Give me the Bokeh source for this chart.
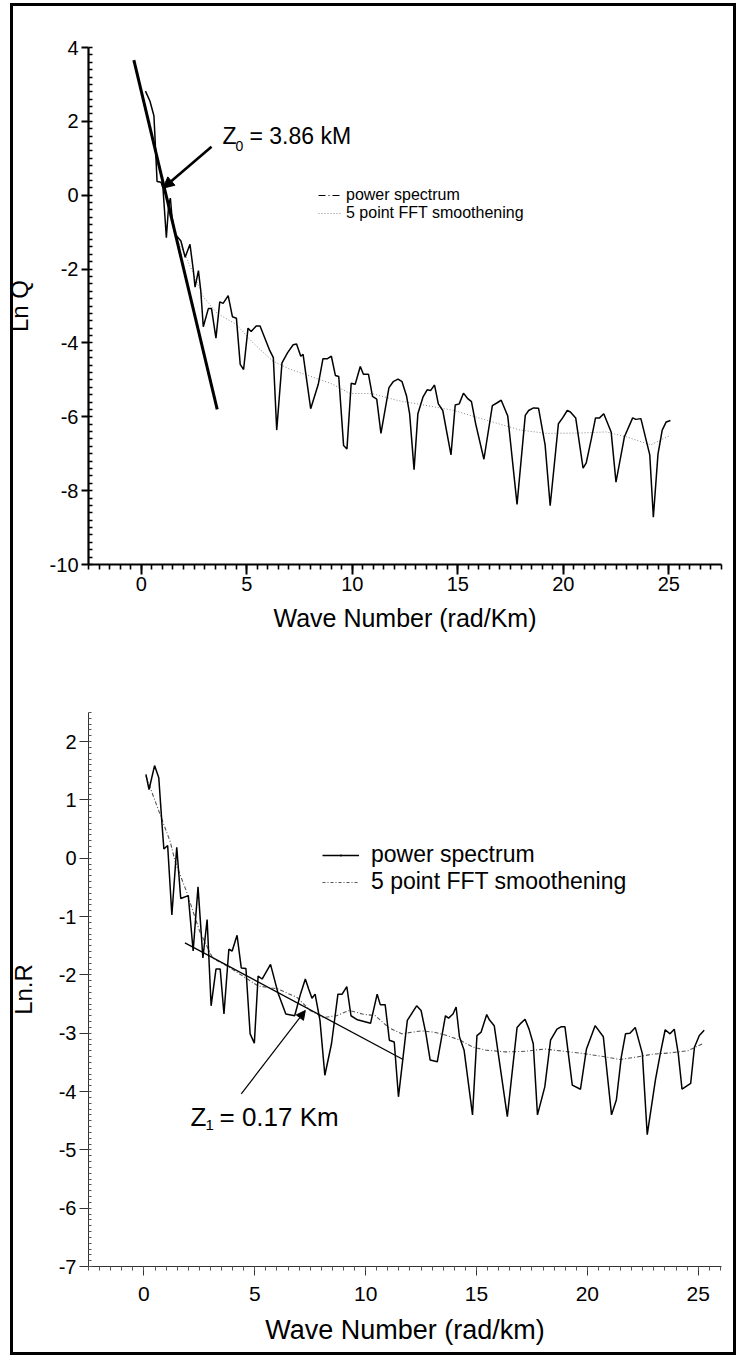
import numpy as np
from bokeh.plotting import figure
from bokeh.models import (Range1d, FixedTicker, Arrow, NormalHead, Label, Legend, LegendItem,
                          PrintfTickFormatter, InlineStyleSheet)
from bokeh.layouts import column
from bokeh.embed import file_html
from bokeh.resources import INLINE

FONT = "Liberation Sans"

# ---------------- data: upper panel (Ln Q) ----------------
top_k = [0.20, 0.41, 0.60, 0.64, 0.75, 0.94, 1.03, 1.19, 1.30, 1.38, 1.46, 1.61, 1.88, 2.08, 2.31, 2.47,
         2.55, 2.71, 2.82, 2.94, 3.18, 3.33, 3.54, 3.72, 3.88, 4.12, 4.32, 4.51, 4.69, 4.85, 5.06, 5.21,
         5.45, 5.63, 6.07, 6.26, 6.42, 6.67, 6.93, 7.20, 7.36, 7.56, 7.67, 8.03, 8.39, 8.61, 8.81, 9.01,
         9.20, 9.36, 9.59, 9.75, 9.95, 10.14, 10.38, 10.53, 10.77, 10.96, 11.16, 11.36, 11.74, 11.94,
         12.17, 12.36, 12.57, 12.72, 12.93, 13.11, 13.35, 13.55, 13.71, 13.90, 14.08, 14.29, 14.68, 14.88,
         15.07, 15.27, 15.46, 15.65, 15.85, 16.24, 16.64, 16.87, 17.06, 17.37, 17.81, 18.20, 18.36, 18.59,
         18.83, 19.14, 19.38, 19.77, 19.97, 20.19, 20.34, 20.59, 20.94, 21.09, 21.33, 21.53, 21.72, 21.92,
         22.27, 22.50, 22.90, 23.29, 23.44, 23.68, 24.10, 24.27, 24.49, 24.69, 24.88, 25.08]
top_lnq = [2.82, 2.55, 2.15, 1.70, 0.37, 0.35, 0.19, -1.15, -0.26, -0.08, -0.61, -1.06, -1.24, -1.68, -1.33, -2.04,
           -2.49, -2.04, -2.58, -3.56, -3.07, -3.07, -3.87, -2.89, -2.93, -2.72, -3.29, -3.33, -4.58, -4.72, -3.60, -3.69,
           -3.54, -3.54, -4.18, -4.40, -6.36, -4.54, -4.27, -4.05, -4.03, -4.36, -4.31, -5.78, -5.12, -4.43, -4.43, -4.36,
           -4.88, -4.91, -6.78, -6.87, -5.09, -5.12, -4.64, -4.85, -4.85, -5.45, -5.52, -6.45, -5.21, -5.05,
           -4.98, -5.05, -5.43, -5.92, -7.43, -5.92, -5.47, -5.27, -5.29, -5.14, -5.65, -5.83, -7.03, -5.68,
           -5.65, -5.36, -5.50, -5.59, -6.19, -7.15, -5.70, -5.62, -5.55, -5.98, -8.37, -5.96, -5.83, -5.76,
           -5.77, -6.76, -8.41, -6.19, -6.03, -5.83, -5.87, -6.03, -7.39, -7.25, -6.60, -6.03, -6.03, -5.92,
           -6.41, -7.77, -6.54, -6.03, -6.07, -6.05, -7.03, -8.72, -7.01, -6.36, -6.14, -6.10]
top_smooth_k = [1.60, 2.07, 2.94, 3.60, 4.51, 5.30, 6.23, 7.00, 7.95, 9.00, 9.90, 10.92, 12.17, 13.58,
                14.83, 16.40, 17.97, 19.22, 20.78, 22.03, 22.97, 24.15, 25.08]
top_smooth_lnq = [-1.10, -1.60, -2.75, -3.20, -3.50, -4.00, -4.49, -4.70, -4.89, -5.10, -5.37, -5.37, -5.56, -5.70,
                  -5.83, -6.10, -6.36, -6.45, -6.44, -6.41, -6.54, -6.76, -6.50]
top_fit_k = [-0.35, 3.60]
top_fit_lnq = [3.66, -5.80]

# ---------------- data: lower panel (Ln R) ----------------
bot_k = [0.09, 0.23, 0.48, 0.67, 0.82, 0.90, 1.07, 1.26, 1.48, 1.66, 2.00, 2.22, 2.44, 2.66, 2.85, 3.03,
         3.25, 3.44, 3.61, 3.83, 3.98, 4.20, 4.39, 4.60, 4.79, 4.98, 5.15, 5.33, 5.71, 6.04, 6.40, 6.80,
         7.06, 7.28, 7.43, 7.58, 7.72, 7.94, 8.16, 8.46, 8.75, 8.94, 9.15, 9.34, 9.63, 10.22, 10.52, 10.66,
         10.88, 11.07, 11.29, 11.48, 11.88, 12.30, 12.50, 12.72, 12.91, 13.23, 13.60, 13.74, 13.94, 14.08,
         14.23, 14.44, 14.82, 15.02, 15.21, 15.46, 15.58, 15.80, 16.39, 16.83, 16.97, 17.19, 17.37, 17.56,
         17.75, 18.08, 18.34, 18.63, 18.81, 18.99, 19.32, 19.69, 19.96, 20.35, 20.72, 21.09, 21.31, 21.53,
         21.72, 21.92, 22.16, 22.48, 22.70, 23.07, 23.29, 23.51, 23.73, 23.92, 24.10, 24.27, 24.66, 24.83,
         25.05, 25.27]
bot_lnr = [1.44, 1.18, 1.59, 1.38, 0.56, 0.16, 0.22, -0.97, 0.19, -0.69, -0.64, -1.59, -0.49, -1.71, -1.05, -2.53,
           -1.90, -1.90, -2.67, -1.56, -1.59, -1.32, -1.88, -1.89, -3.01, -3.17, -2.02, -2.07, -1.82, -2.30, -2.67, -2.70,
           -2.33, -2.07, -2.24, -2.40, -2.33, -2.78, -3.72, -3.18, -2.33, -2.33, -2.20, -2.70, -2.77, -2.83, -2.33, -2.51,
           -2.51, -3.12, -3.15, -4.09, -2.78, -2.53, -2.61, -3.01, -3.46, -3.49, -2.70, -2.74, -2.67, -2.55,
           -3.06, -3.29, -4.40, -3.04, -2.98, -2.68, -2.77, -2.87, -4.43, -2.90, -2.84, -2.76, -2.93, -3.18,
           -4.40, -3.92, -3.12, -2.93, -2.89, -2.89, -3.89, -3.96, -3.27, -2.87, -3.06, -4.40, -4.14, -3.41,
           -3.01, -3.00, -2.90, -3.35, -4.74, -3.80, -3.35, -2.94, -3.01, -2.93, -3.35, -3.96, -3.86, -3.24,
           -3.04, -2.95]
bot_smooth_k = [0.09, 0.75, 1.19, 1.41, 1.92, 2.51, 3.10, 3.98, 5.15, 6.04, 6.92, 7.50, 8.09, 8.68, 9.26, 9.85,
                10.44, 11.03, 11.62, 12.50, 13.08, 13.67, 14.26, 14.85, 15.43, 16.31, 17.19, 18.07, 18.96, 19.84,
                20.72, 21.45, 22.19, 22.92, 23.66, 24.54, 25.20]
bot_smooth_lnr = [1.41, 0.73, 0.28, -0.06, -0.57, -1.25, -1.71, -1.90, -2.19, -2.24, -2.39, -2.61, -2.73, -2.70,
                  -2.61, -2.67, -2.70, -2.90, -3.01, -2.96, -2.98, -3.04, -3.12, -3.24, -3.29, -3.32, -3.31, -3.27,
                  -3.31, -3.35, -3.40, -3.45, -3.41, -3.36, -3.34, -3.30, -3.18]
bot_fit_k = [1.85, 11.69]
bot_fit_lnr = [-1.45, -3.45]

# annotation anchors (data coordinates)
top_arrow = dict(x_start=3.33, y_start=1.31, x_end=1.03, y_end=0.19)
bot_arrow = dict(x_start=4.39, y_start=-4.04, x_end=7.28, y_end=-2.61)

NAN = np.array([np.nan])  # placeholder data for legend-only sample glyphs

W = 738


def base_figure(xr, yr, h, mb):
    p = figure(width=W, height=h, x_range=Range1d(*xr), y_range=Range1d(*yr),
               output_backend="svg", toolbar_location=None,
               min_border_left=mb[0], min_border_right=mb[1], min_border_top=mb[2], min_border_bottom=mb[3])
    p.grid.visible = False
    p.outline_line_color = None
    p.background_fill_color = "white"
    p.border_fill_color = "white"
    for ax in (p.xaxis[0], p.yaxis[0]):
        ax.major_label_text_font = FONT
        ax.axis_label_text_font = FONT
        ax.axis_label_text_font_style = "normal"
        ax.major_label_text_color = "black"
        ax.axis_label_text_color = "black"
        ax.formatter = PrintfTickFormatter(format="%d")
    return p


# ---------------- upper panel ----------------
p1 = base_figure((-2.5, 27.5), (-10, 4), 651, (88, 17, 47, 87))
p1.xaxis.ticker = FixedTicker(ticks=[0, 5, 10, 15, 20, 25], minor_ticks=list(np.arange(-2.5, 27.51, 0.5)))
p1.yaxis.ticker = FixedTicker(ticks=list(range(-10, 5, 2)), minor_ticks=list(np.arange(-10, 4.01, 0.2)))
for ax in (p1.xaxis[0], p1.yaxis[0]):
    ax.axis_line_width = 2.2
    ax.major_tick_line_width = 2
    ax.minor_tick_line_width = 1.6
    ax.major_label_text_font_size = "20px"
    ax.axis_label_text_font_size = "25px"
p1.xaxis.major_tick_out = 10
p1.xaxis.major_tick_in = 0
p1.xaxis.minor_tick_out = 5
p1.xaxis.minor_tick_in = 0
p1.xaxis.major_label_standoff = 2
p1.xaxis.axis_label = "Wave Number (rad/Km)"
p1.xaxis.axis_label_standoff = 10
p1.yaxis.major_tick_out = 7
p1.yaxis.major_tick_in = 0
p1.yaxis.minor_tick_out = 0
p1.yaxis.minor_tick_in = 4
p1.yaxis.major_label_standoff = 3
p1.yaxis.axis_label = "Ln Q"
p1.yaxis.axis_label_text_font_size = "24px"
p1.yaxis.axis_label_standoff = 14

p1.line(top_smooth_k, top_smooth_lnq, line_color="#888888", line_width=1, line_dash="1 2")
p1.line(top_k, top_lnq, line_color="black", line_width=1.5)
p1.line(top_fit_k, top_fit_lnq, line_color="black", line_width=3)
p1.add_layout(Arrow(end=NormalHead(size=11, fill_color="black", line_color="black"),
                    line_color="black", line_width=2.6, **top_arrow))
zx, zy = 3.85, 1.6
p1.add_layout(Label(x=zx, y=zy, text="Z", text_font=FONT, text_font_size="23px", text_baseline="middle",
                    text_color="black"))
p1.add_layout(Label(x=zx, y=zy, x_offset=13, y_offset=-10, text="0", text_font=FONT,
                    text_font_size="14px", text_baseline="middle", text_color="black"))
p1.add_layout(Label(x=zx, y=zy, x_offset=27, text="= 3.86 kM", text_font=FONT, text_font_size="23px",
                    text_baseline="middle", text_color="black"))

l1a = p1.line(NAN, NAN, line_color="black", line_width=1.2, line_dash="7 3 1 3")
l1b = p1.line(NAN, NAN, line_color="#888888", line_width=1, line_dash="1 2")
leg1 = Legend(items=[LegendItem(label="power spectrum", renderers=[l1a]),
                     LegendItem(label="5 point FFT smoothening", renderers=[l1b])],
              location=(230, 342), padding=0, margin=0, spacing=0, glyph_width=23, glyph_height=16,
              label_height=16, label_standoff=5, label_text_font=FONT, label_text_font_size="16px",
              label_text_color="black", background_fill_alpha=0, border_line_color=None)
p1.add_layout(leg1)

# ---------------- lower panel ----------------
p2 = base_figure((-2.5, 26.05), (-7, 2.5), 705, (85, 8, 61, 90))
p2.xaxis.ticker = FixedTicker(ticks=[0, 5, 10, 15, 20, 25], minor_ticks=list(np.arange(-2.5, 26.01, 0.5)))
p2.yaxis.ticker = FixedTicker(ticks=list(range(-7, 3)), minor_ticks=list(np.arange(-7, 2.51, 0.1)))
for ax in (p2.xaxis[0], p2.yaxis[0]):
    ax.axis_line_width = 1
    ax.axis_line_color = "#333333"
    ax.major_tick_line_width = 1
    ax.major_tick_line_color = "#333333"
    ax.minor_tick_line_width = 1
    ax.minor_tick_line_color = "#555555"
    ax.major_label_text_font_size = "21px"
    ax.axis_label_text_font_size = "27px"
p2.xaxis.major_tick_out = 9
p2.xaxis.major_tick_in = 0
p2.xaxis.minor_tick_out = 4
p2.xaxis.minor_tick_in = 0
p2.xaxis.major_label_standoff = 11
p2.xaxis.axis_label = "Wave Number (rad/km)"
p2.xaxis.axis_label_standoff = 11
p2.yaxis.major_tick_out = 9
p2.yaxis.major_tick_in = 0
p2.yaxis.minor_tick_out = 0
p2.yaxis.minor_tick_in = 3
p2.yaxis.major_label_standoff = 3
p2.yaxis.major_label_text_font_size = "20px"
p2.yaxis.axis_label = "Ln.R"
p2.yaxis.axis_label_text_font_size = "24px"
p2.yaxis.axis_label_standoff = 19

r_smooth2 = p2.line(bot_smooth_k, bot_smooth_lnr, line_color="#555555", line_width=1.1, line_dash="4 2 1 2")
r_spec2 = p2.line(bot_k, bot_lnr, line_color="black", line_width=1.5)
p2.line(bot_fit_k, bot_fit_lnr, line_color="black", line_width=1.3)
p2.add_layout(Arrow(end=NormalHead(size=9, fill_color="black", line_color="black"),
                    line_color="black", line_width=1.2, **bot_arrow))
zx2, zy2 = 2.1, -4.44
p2.add_layout(Label(x=zx2, y=zy2, text="Z", text_font=FONT, text_font_size="26px", text_baseline="middle",
                    text_color="black"))
p2.add_layout(Label(x=zx2, y=zy2, x_offset=15, y_offset=-8, text="1", text_font=FONT,
                    text_font_size="15px", text_baseline="middle", text_color="black"))
p2.add_layout(Label(x=zx2, y=zy2, x_offset=29, text="= 0.17 Km", text_font=FONT, text_font_size="26px",
                    text_baseline="middle", text_color="black"))

l2d = p2.scatter(NAN, NAN, marker="dot", size=12, color="black")
l2b = p2.line(NAN, NAN, line_color="#555555", line_width=1, line_dash="3 2 1 2")
leg2 = Legend(items=[LegendItem(label="power spectrum", renderers=[r_spec2, l2d]),
                     LegendItem(label="5 point FFT smoothening", renderers=[l2b])],
              location=(234, 371), padding=0, margin=0, spacing=-2, glyph_width=37, glyph_height=22,
              label_height=22, label_standoff=12, label_text_font=FONT, label_text_font_size="23px",
              label_text_color="black", background_fill_alpha=0, border_line_color=None)
p2.add_layout(leg2)

frame_css = InlineStyleSheet(css="""
:host { position: relative; background-color: white; }
:host::after {
  content: "";
  position: absolute;
  left: 10px; top: 3px;
  width: 720px; height: 1346px;
  border: 3px solid black;
  box-sizing: content-box;
  pointer-events: none;
  z-index: 100;
}
""")

layout = column(p1, p2, stylesheets=[frame_css])

open("out.html", "w").write(file_html(layout, INLINE))
